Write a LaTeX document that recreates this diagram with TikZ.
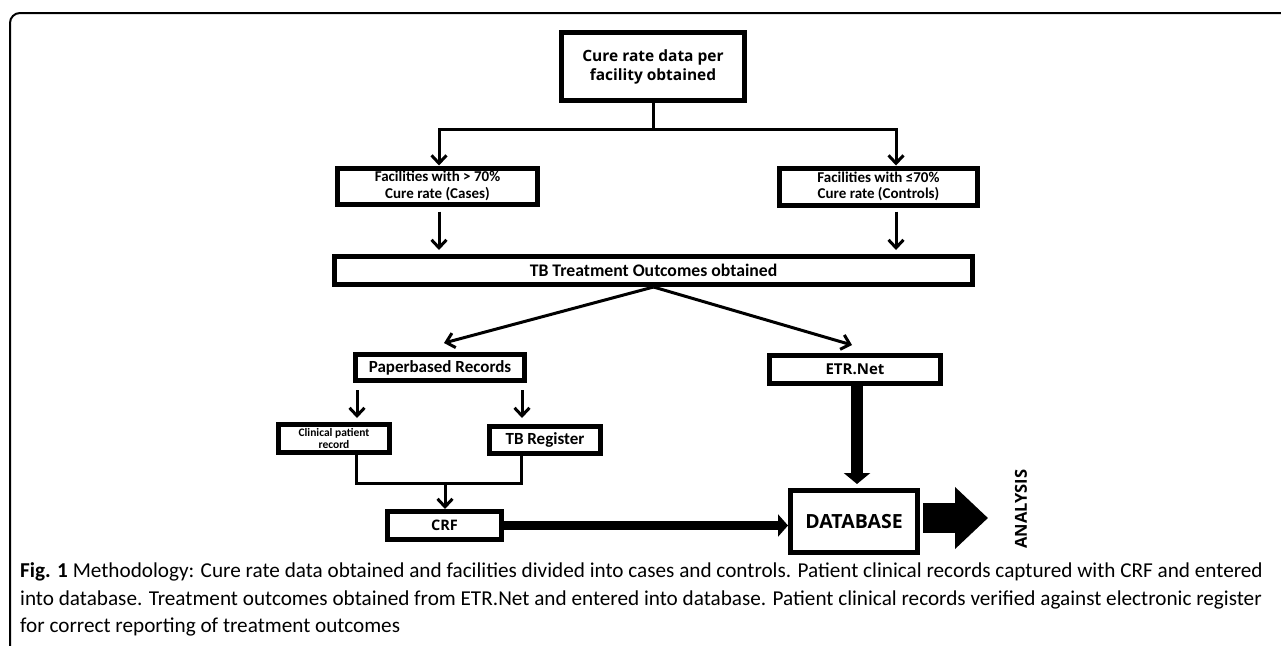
\documentclass[tikz,border=0pt]{standalone}
\usepackage{fontspec}
\setmainfont{Carlito}
\newfontfamily\osans{Open Sans}
\usetikzlibrary{arrows.meta}
\begin{document}
\begin{tikzpicture}[x=1pt,y=-1pt,
  box/.style={draw, line width=5pt, inner sep=0pt, align=center},
  conn/.style={line width=3pt},
  arr/.style={conn, -{Straight Barb[length=8pt,width=15pt,line width=3pt]}},
  fatarr/.style={-{Triangle[length=11pt,width=26pt]}},
  captext/.style={anchor=base west, inner sep=0pt, font=\fontsize{21.2}{27}\selectfont}
]
\useasboundingbox (0,0) rectangle (1281,645);
\draw[line width=2pt, rounded corners=10pt] (10,646) -- (10,13) -- (1282,13);

\node[box, minimum width=183pt, minimum height=68pt, font=\osans\bfseries\fontsize{15.5}{19}\selectfont] (top) at (653,66.5) {Cure rate data per\\facility obtained};
\node[box, minimum width=200pt, minimum height=36pt, font=\bfseries\fontsize{15}{16.5}\selectfont] (fac1) at (437.5,186) {Facilities with > 70\%\\Cure rate (Cases)};
\node[box, minimum width=198pt, minimum height=37pt, font=\bfseries\fontsize{15}{16.5}\selectfont] (fac2) at (878.5,186.5) {Facilities with ≤70\%\\Cure rate (Controls)};
\node[box, minimum width=638pt, minimum height=28pt, font=\bfseries\fontsize{17.7}{20}\selectfont] (tb) at (653.5,270.5) {TB Treatment Outcomes obtained};
\node[box, minimum width=169pt, minimum height=26pt, font=\bfseries\fontsize{17}{19}\selectfont] (paper) at (440,367.5) {Paperbased Records};
\node[box, minimum width=171pt, minimum height=28pt, font=\osans\bfseries\fontsize{15}{17}\selectfont] (etr) at (855,369.5) {ETR.Net};
\node[box, minimum width=111pt, minimum height=28pt, font=\bfseries\fontsize{11.5}{12.5}\selectfont] (clin) at (334,438.5) {Clinical patient\\record};
\node[box, minimum width=111pt, minimum height=27pt, font=\bfseries\fontsize{17}{19}\selectfont] (tbreg) at (545,440) {TB Register};
\node[box, minimum width=114pt, minimum height=28pt, font=\osans\bfseries\fontsize{14.5}{17}\selectfont] (crf) at (444.5,525.5) {CRF};
\node[box, minimum width=127pt, minimum height=62pt, font=\osans\bfseries\fontsize{19.5}{22}\selectfont] (db) at (854,521.5) {DATABASE};
\node[rotate=90, inner sep=0pt, font=\osans\bfseries\fontsize{16.5}{18}\selectfont] (ana) at (1021,509) {ANALYSIS};

\coordinate (split) at (653,129);
\coordinate (sl) at (439,129);
\coordinate (sr) at (896,129);
\draw[conn] (top.south) -- (split);
\draw[arr, line join=miter] (split) -- (sl) -- (sl |- fac1.north);
\draw[arr, line join=miter] (split) -- (sr) -- (sr |- fac2.north);
\draw[arr, shorten <=5pt, shorten >=4pt] (fac1.south -| sl) -- (sl |- tb.north);
\draw[arr, shorten <=4pt, shorten >=4pt] (fac2.south -| sr) -- (sr |- tb.north);

\coordinate (pt) at (444,343);
\coordinate (et) at (852,345);
\draw[arr] (tb.south) -- (pt);
\draw[arr] (tb.south) -- (et);

\draw[arr] ([xshift=-83pt,yshift=-7pt]paper.south) -- ([xshift=23pt,yshift=4pt]clin.north);
\draw[arr] ([xshift=82pt,yshift=-7pt]paper.south) -- ([xshift=-23pt,yshift=6pt]tbreg.north);

\coordinate (jn) at (445,483);
\draw[conn, line join=miter] ([xshift=22pt]clin.south) |- (jn) -| ([xshift=-24pt]tbreg.south);
\draw[arr] (jn) -- (jn |- crf.north);

\draw[line width=9pt, -{Triangle[length=10pt,width=22pt]}] (crf.east) -- (crf.east -| db.west);
\draw[line width=12pt, fatarr, shorten >=4pt] ([xshift=2pt]etr.south) -- ([xshift=2pt]etr.south |- db.north);
\coordinate (anatip) at (988,518);
\draw[line width=30pt, -{Triangle[length=33pt,width=60pt]}, shorten <=3pt] (db.east |- anatip) -- (anatip);

\node[captext] (cap1) at (20,577) {\textbf{Fig. 1} Methodology: Cure rate data obtained and facilities divided into cases and controls. Patient clinical records captured with CRF and entered};
\node[captext] (cap2) at (20,605) {into database. Treatment outcomes obtained from ETR.Net and entered into database. Patient clinical records verified against electronic register};
\node[captext] (cap3) at (20,632) {for correct reporting of treatment outcomes};
\end{tikzpicture}
\end{document}
